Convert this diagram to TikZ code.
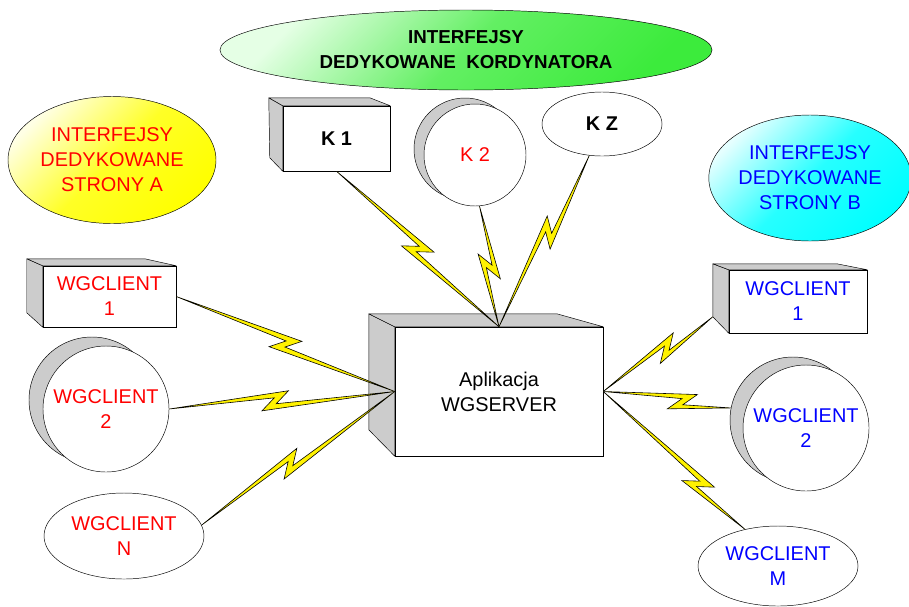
\documentclass[tikz,border=0pt]{standalone}
\usepackage{fontspec}
\setmainfont{Liberation Sans}
\usetikzlibrary{calc,shapes.geometric,positioning}

\definecolor{kordgreen}{RGB}{60,235,60}

% zigzag link: #1 client end, #2 server end, #3 position of the kink
\newcommand\wgbolt[3]{%
  \coordinate (bM) at ($(#1)!#3!(#2)$);
  \coordinate (bF) at ($(bM)!0.42cm!(#2)$);
  \coordinate (bf) at ($(bM)!0.0225cm!(#2)$);
  \coordinate (bb) at ($(bM)!0.0225cm!(#1)$);
  \coordinate (bB) at ($(bM)!0.42cm!(#1)$);
  \filldraw[boltline] (#1) -- ($(bF)!0.27cm!90:(#2)$) -- ($(bf)!0.09cm!-90:(#2)$)
     -- (#2) -- ($(bB)!0.27cm!-90:(#2)$) -- ($(bb)!0.09cm!90:(#2)$) -- cycle;
}

\begin{document}
\begin{tikzpicture}[x=0.03cm,y=-0.03cm,
	txt/.style={font=\fontsize{17}{21.3}\selectfont, align=center, inner sep=0pt},
	face/.style={draw, fill=white, txt},
	side/.style={draw, fill=black!20, line join=round},
	drum/.style={circle, draw, fill=white, txt},
	drumback/.style={circle, draw, fill=black!20},
	oval/.style={ellipse, draw, fill=white, txt},
	boltline/.style={draw=black, fill=yellow, line width=0.5pt}]
	
	\useasboundingbox (0,0) rectangle (909,606);
	
	% interfejsy
	\node[oval, minimum width=14.76cm, minimum height=2.4cm, top color=green!10, bottom color=kordgreen, middle color=kordgreen!80, shading angle=45, font=\fontsize{16}{21.3}\selectfont\bfseries] (kord) at (466,50) {INTERFEJSY\\DEDYKOWANE\ \ KORDYNATORA};
	\node[oval, minimum width=6.24cm, minimum height=3.81cm, top color=yellow!10, bottom color=yellow, middle color=yellow!85, shading angle=45, text=red] (sideA) at (112,160) {INTERFEJSY\\DEDYKOWANE\\STRONY A};
	\node[oval, minimum width=5.94cm, minimum height=3.78cm, top color=cyan!10, bottom color=cyan, middle color=cyan!85, shading angle=45, text=blue] (sideB) at (810,178) {INTERFEJSY\\DEDYKOWANE\\STRONY B};
	
	% kordynator
	\node[face, minimum width=3.21cm, minimum height=1.95cm, font=\fontsize{17}{21.3}\selectfont\bfseries] (k1) at (336.5,138.5) {K 1};
	\filldraw[side] (k1.north west) -- ++(-14,-8) -- ++(1,60) -- (k1.south west) -- cycle;
	\filldraw[side] (k1.north west) -- ++(-14,-8) -- ++(101,0) -- (k1.north east) -- cycle;
	
	\node[drumback, minimum size=3.06cm] (k2b) at (465,149) {};
	\node[drum, minimum size=3.06cm, text=red] (k2) at (475,155) {K 2};
	
	\node[oval, minimum width=3.6cm, minimum height=1.92cm, font=\fontsize{17}{21.3}\selectfont\bfseries] (kz) at (602,124) {K Z};
	
	% serwer
	\node[face, minimum width=6.24cm, minimum height=3.87cm] (srv) at (499,391.5) {Aplikacja\\WGSERVER};
	\filldraw[side] (srv.north west) -- ++(-26,-13) -- ++(0,116) -- (srv.south west) -- cycle;
	\filldraw[side] (srv.north west) -- ++(-26,-13) -- ++(188,0) -- (srv.north east) -- cycle;
	
	% strona A
	\node[face, minimum width=3.99cm, minimum height=1.83cm, text=red] (wgl1) at (109.5,296.5) {WGCLIENT\\1};
	\filldraw[side] (wgl1.north west) -- ++(-16,-7) -- ++(0,54) -- (wgl1.south west) -- cycle;
	\filldraw[side] (wgl1.north west) -- ++(-16,-7) -- ++(118,0) -- (wgl1.north east) -- cycle;
	
	\node[drumback, minimum size=3.78cm] (wgl2b) at (92,400) {};
	\node[drum, minimum size=3.78cm, text=red] (wgl2) at (106,409) {WGCLIENT\\2};
	
	\node[oval, minimum width=4.8cm, minimum height=2.58cm, text=red] (wgln) at (124,536) {WGCLIENT\\N};
	
	% strona B
	\node[face, minimum width=4.14cm, minimum height=1.89cm, text=blue] (wgr1) at (798,301.5) {WGCLIENT\\1};
	\filldraw[side] (wgr1.north west) -- ++(-16,-6) -- ++(0,53) coordinate (wgr1c) -- (wgr1.south west) -- cycle;
	\filldraw[side] (wgr1.north west) -- ++(-16,-6) -- ++(124,0) -- (wgr1.north east) -- cycle;
	
	\node[drumback, minimum size=3.78cm] (wgr2b) at (793,420) {};
	\node[drum, minimum size=3.78cm, text=blue] (wgr2) at (806,428) {WGCLIENT\\2};
	
	\node[oval, minimum width=4.8cm, minimum height=2.4cm, text=blue] (wgrm) at (778,566) {WGCLIENT\\M};
	
	% polaczenia
	\wgbolt{k1.south}{srv.north}{0.5}
	\wgbolt{k2.-85}{srv.north}{0.5}
	\wgbolt{kz.-112}{srv.north}{0.45}
	\wgbolt{wgl1.east}{srv.west}{0.5}
	\wgbolt{wgl2.east}{srv.west}{0.47}
	\wgbolt{wgln.8}{srv.west}{0.46}
	\wgbolt{wgr1c}{srv.east}{0.42}
	\wgbolt{wgr2b.169}{srv.east}{0.38}
	\wgbolt{wgrm.132}{srv.east}{0.33}
	
\end{tikzpicture}
\end{document}
